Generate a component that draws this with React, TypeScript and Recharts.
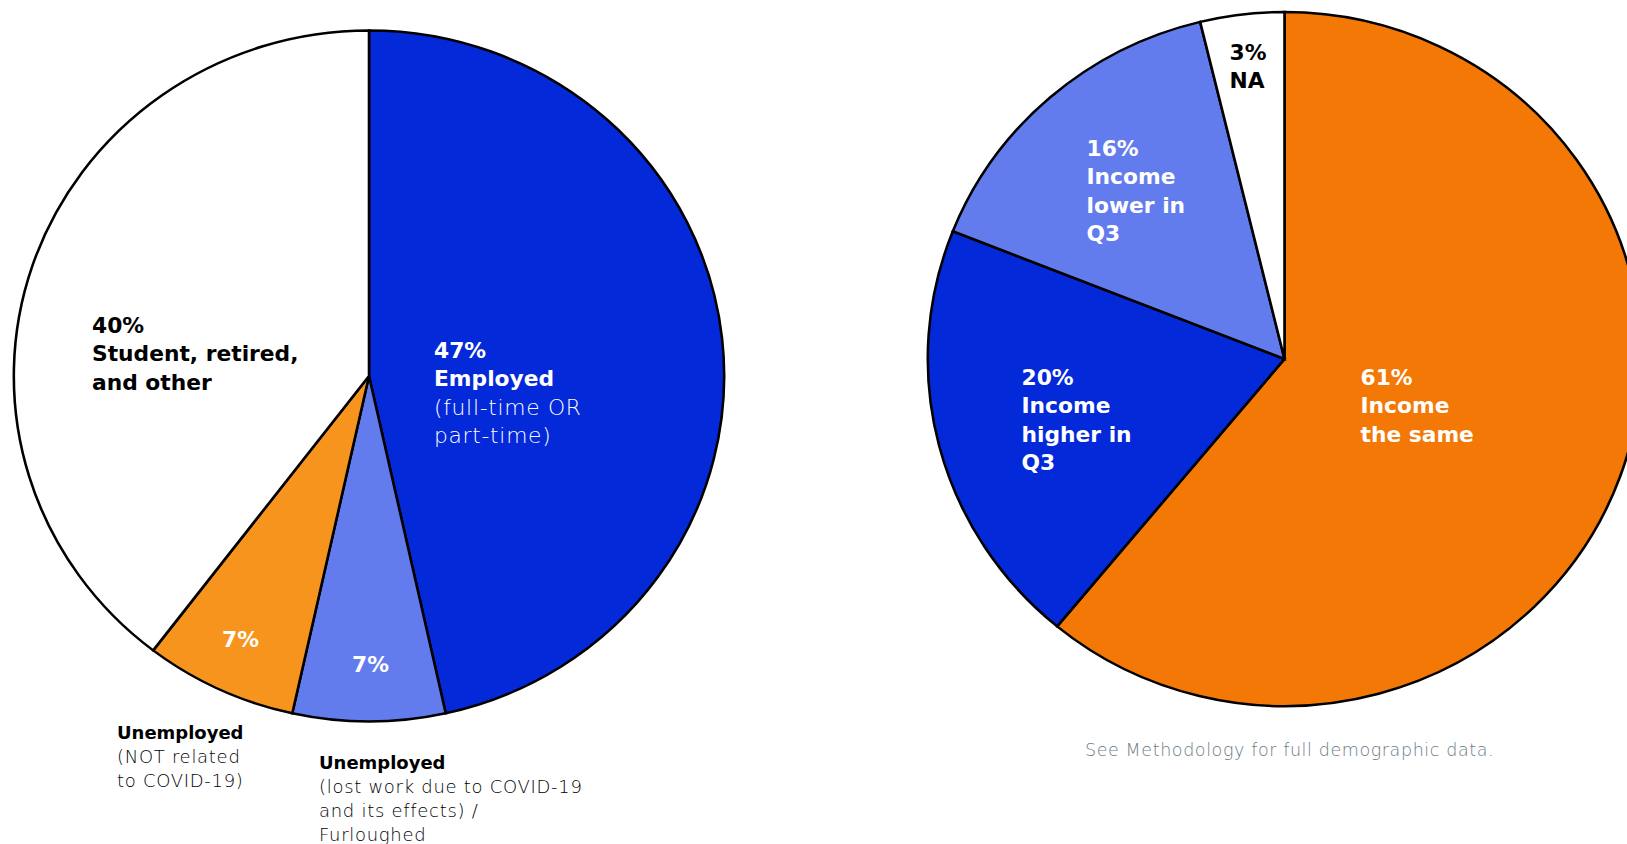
import React from 'react';
import { PieChart, Pie, Cell } from 'recharts';

// Left pie: employment status
const employmentNames = ['Employed', 'Unemployed (COVID-19)', 'Unemployed (not COVID-19)', 'Student, retired, and other'];
const employmentValues = [47, 7, 7, 40];
const employmentColors = ['#0429D9', '#637CED', '#F7941D', '#FFFFFF'];

// Right pie: income change (slice sizes as drawn in the picture; labels carry the rounded figures)
const incomeNames = ['Income the same', 'Income higher in Q3', 'Income lower in Q3', 'NA'];
const incomeValues = [61, 20, 15.2, 3.8];
const incomeColors = ['#F47806', '#0429D9', '#637CED', '#FFFFFF'];

type Line = { text: string; bold: boolean };
const B = (text: string): Line => ({ text, bold: true });
const L = (text: string): Line => ({ text, bold: false });

const employmentLabels: Line[][] = [
  [B('47%'), B('Employed'), L('(full-time OR'), L('part-time)')],
  [B('7%')],
  [B('7%')],
  [B('40%'), B('Student, retired,'), B('and other')],
];
const employmentNotes: Line[][] = [
  [],
  [B('Unemployed'), L('(lost work due to COVID-19'), L('and its effects) /'), L('Furloughed')],
  [B('Unemployed'), L('(NOT related'), L('to COVID-19)')],
  [],
];

const incomeLabels: Line[][] = [
  [B('61%'), B('Income'), B('the same')],
  [B('20%'), B('Income'), B('higher in'), B('Q3')],
  [B('16%'), B('Income'), B('lower in'), B('Q3')],
  [B('3%'), B('NA')],
];

const FONT = '"DejaVu Sans", sans-serif';
// the source image is a bit wider than tall
const STRETCH = 1.028;
const NO_MARGIN = { top: 0, right: 0, bottom: 0, left: 0 };

// offsets of label blocks from the pie centre (in page pixels)
const employmentLabelPos = [
  { dx: 65, dy: -18 },
  { dx: -17, dy: 296 },
  { dx: -147, dy: 271 },
  { dx: -277, dy: -43 },
];
const employmentNotePos = [null, { dx: -50, dy: 393 }, { dx: -252, dy: 363 }, null];
const incomeLabelPos = [
  { dx: 76, dy: 26 },
  { dx: -263, dy: 26 },
  { dx: -198, dy: -203 },
  { dx: -55, dy: -299 },
];

const textFill = (slice: string) => (slice === '#FFFFFF' ? '#000' : '#fff');

const makeLabel =
  (labels: Line[][], colors: string[], pos: { dx: number; dy: number }[], notes?: Line[][], notePos?: any[]) =>
  (props: any) => {
    const { cx, cy, index } = props;
    const p = pos[index];
    const np = notePos ? notePos[index] : null;
    const x = cx + p.dx / STRETCH;
    return (
      <g key={`lbl-${index}`} style={{ fontFamily: FONT }}>
        <text x={x} y={cy + p.dy} fill={textFill(colors[index])} fontSize={21.2}>
          {labels[index].map((l, i) => (
            <tspan key={i} x={x} dy={i === 0 ? 0 : 28.5} fontWeight={l.bold ? 700 : 300} letterSpacing={l.bold ? 0 : 0.7}>
              {l.text}
            </tspan>
          ))}
        </text>
        {np && notes && (
          <text x={cx + np.dx / STRETCH} y={cy + np.dy} fill="#000" fontSize={17.5}>
            {notes[index].map((l, i) => (
              <tspan
                key={i}
                x={cx + np.dx / STRETCH}
                dy={i === 0 ? 0 : 24}
                fontWeight={l.bold ? 700 : 300}
                letterSpacing={l.bold ? 0 : 0.7}
              >
                {l.text}
              </tspan>
            ))}
          </text>
        )}
      </g>
    );
  };

const employmentData = employmentNames.map((name, i) => ({ name, value: employmentValues[i] }));
const incomeData = incomeNames.map((name, i) => ({ name, value: incomeValues[i] }));

export default function App() {
  return (
    <div style={{ position: 'absolute', left: 0, top: 0, width: 1627, height: 844, background: '#fff', overflow: 'hidden' }}>
      <style>{`body{margin:0;overflow:hidden}`}</style>
      <div style={{ position: 'absolute', left: 0, top: 0, transform: `scaleX(${STRETCH})`, transformOrigin: '369px 0' }}>
        <PieChart width={760} height={844} margin={NO_MARGIN}>
          <Pie
            data={employmentData}
            dataKey="value"
            cx={369}
            cy={376}
            outerRadius={345.5}
            startAngle={90}
            endAngle={-270}
            stroke="#000"
            strokeWidth={2.5}
            labelLine={false}
            label={makeLabel(employmentLabels, employmentColors, employmentLabelPos, employmentNotes, employmentNotePos)}
            isAnimationActive={false}
          >
            {employmentData.map((_, i) => (
              <Cell key={`e-${i}`} fill={employmentColors[i]} />
            ))}
          </Pie>
        </PieChart>
      </div>
      <div style={{ position: 'absolute', left: 880, top: 0, transform: `scaleX(${STRETCH})`, transformOrigin: '404.5px 0' }}>
        <PieChart width={747} height={844} margin={NO_MARGIN}>
          <Pie
            data={incomeData}
            dataKey="value"
            cx={404.5}
            cy={359}
            outerRadius={347}
            startAngle={90}
            endAngle={-270}
            stroke="#000"
            strokeWidth={2.5}
            labelLine={false}
            label={makeLabel(incomeLabels, incomeColors, incomeLabelPos)}
            isAnimationActive={false}
          >
            {incomeData.map((_, i) => (
              <Cell key={`i-${i}`} fill={incomeColors[i]} />
            ))}
          </Pie>
        </PieChart>
      </div>
      <div
        style={{
          position: 'absolute',
          left: 1085,
          top: 740,
          fontFamily: FONT,
          fontSize: 17.5,
          letterSpacing: 0.6,
          lineHeight: '20px',
          color: '#6B7A86',
          fontWeight: 300,
          whiteSpace: 'nowrap',
        }}
      >
        See Methodology for full demographic data.
      </div>
    </div>
  );
}
